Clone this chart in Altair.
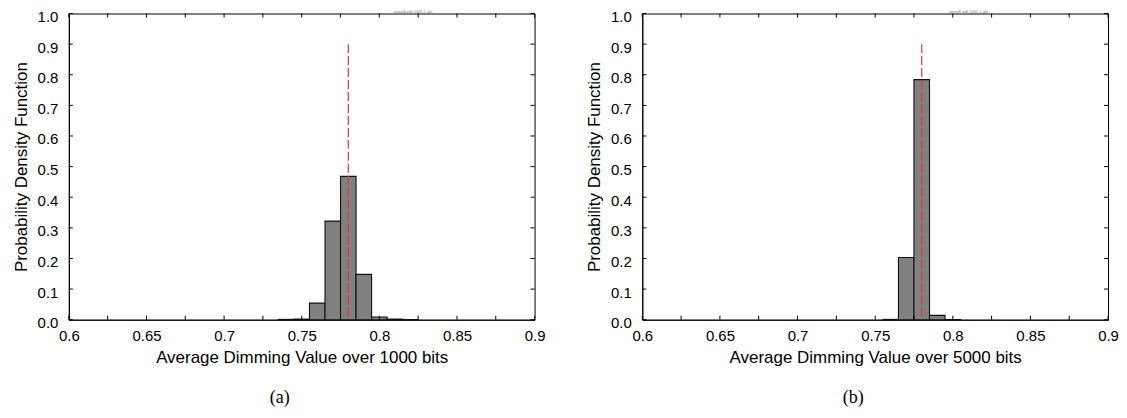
import altair as alt
import pandas as pd

# ---- data ----
bins_a = [0.74, 0.75, 0.76, 0.77, 0.78, 0.79, 0.80, 0.81, 0.82]
pdf_a = [0.001, 0.002, 0.054, 0.322, 0.468, 0.148, 0.009, 0.002, 0.0005]
bins_b = [0.76, 0.77, 0.78, 0.79, 0.80]
pdf_b = [0.001, 0.203, 0.784, 0.014, 0.0005]
bin_width = 0.01
mean_a = [0.78]
mean_b = [0.78]
line_top = [0.9]

x_labels = [0.6, 0.65, 0.7, 0.75, 0.8, 0.85, 0.9]
x_ticks = [0.6, 0.625, 0.65, 0.675, 0.7, 0.725, 0.75, 0.775, 0.8, 0.825, 0.85, 0.875, 0.9]
y_ticks = [0.0, 0.1, 0.2, 0.3, 0.4, 0.5, 0.6, 0.7, 0.8, 0.9, 1.0]

xtitle_a = "Average Dimming Value over 1000 bits"
xtitle_b = "Average Dimming Value over 5000 bits"
ytitle = "Probability Density Function"
captions = ["(a)", "(b)"]
gle_names = ["unary8-pdf-1000-1.gle", "unary8-pdf-5000-1.gle"]

W, H = 467, 307
TICK = 4
FONT = "Liberation Sans"


def panel(bins, pdf, mean, xtitle, caption, gle, gle_x):
    xs = alt.Scale(domain=[0.6, 0.9], nice=False, zero=False)
    ys = alt.Scale(domain=[0, 1], nice=False)
    xaxis = alt.Axis(values=x_labels, format=".2~f", title=xtitle,
                     labelPadding=9, titlePadding=6)
    yaxis = alt.Axis(values=y_ticks, format=".1f", title=ytitle,
                     labelPadding=11, titlePadding=7,
                     labelBaseline="top", labelOffset=-4)
    df = pd.DataFrame({"center": bins, "pdf": pdf, "base": [0.0] * len(bins)})
    bars = (
        alt.Chart(df)
        .transform_calculate(
            lo=f"datum.center - {bin_width / 2}",
            hi=f"datum.center + {bin_width / 2}",
        )
        .mark_rect(fill="#808080", stroke="#111111", strokeWidth=1.1, opacity=1)
        .encode(
            x=alt.X("lo:Q", scale=xs, axis=xaxis),
            x2="hi:Q",
            y=alt.Y("pdf:Q", scale=ys, axis=yaxis),
            y2="base:Q",
        )
    )
    mdf = pd.DataFrame({"m": mean, "top": line_top, "base": [0.0]})
    rule = (
        alt.Chart(mdf)
        .mark_rule(color="#e03535", strokeDash=[9, 3], strokeWidth=1.2)
        .encode(
            x=alt.X("m:Q", scale=xs, axis=xaxis),
            y=alt.Y("top:Q", scale=ys, axis=yaxis),
            y2="base:Q",
        )
    )
    xt = pd.DataFrame({"v": x_ticks})
    yt = pd.DataFrame({"v": y_ticks})
    bt = alt.Chart(xt).mark_rule(color="black").encode(
        x=alt.X("v:Q", scale=xs, axis=xaxis), y=alt.value(H), y2=alt.value(H - TICK)
    )
    tt = alt.Chart(xt).mark_rule(color="black").encode(
        x=alt.X("v:Q", scale=xs, axis=xaxis), y=alt.value(0), y2=alt.value(TICK)
    )
    lt = alt.Chart(yt).mark_rule(color="black").encode(
        y=alt.Y("v:Q", scale=ys, axis=yaxis), x=alt.value(0), x2=alt.value(TICK)
    )
    rt = alt.Chart(yt).mark_rule(color="black").encode(
        y=alt.Y("v:Q", scale=ys, axis=yaxis), x=alt.value(W), x2=alt.value(W - TICK)
    )
    cap = (
        alt.Chart(pd.DataFrame({"t": [caption]}))
        .mark_text(font="Liberation Serif", fontSize=18, color="black", baseline="middle")
        .encode(text="t:N", x=alt.value(W / 2 - 22), y=alt.value(386))
    )
    gl = (
        alt.Chart(pd.DataFrame({"t": [gle]}))
        .mark_text(font=FONT, fontSize=4, color="#777777", baseline="middle")
        .encode(text="t:N", x=alt.value(gle_x), y=alt.value(-2))
    )
    return alt.layer(bars, rule, bt, tt, lt, rt, cap, gl).properties(width=W, height=H)


left = panel(bins_a, pdf_a, mean_a, xtitle_a, captions[0], gle_names[0], 345)
right = panel(bins_b, pdf_b, mean_b, xtitle_b, captions[1], gle_names[1], 327)

chart = (
    alt.hconcat(left, right, spacing=108, bounds="flush")
    .properties(padding={"left": 3, "top": 0, "right": 0, "bottom": 0})
    .configure_view(stroke="black", strokeWidth=1)
    .configure_axis(
        grid=False,
        ticks=False,
        tickSize=0,
        domainColor="black",
        domainWidth=1,
        labelFont=FONT,
        labelFontSize=15,
        labelColor="black",
        labelFlush=False,
        labelOverlap=False,
        titleFont=FONT,
        titleFontSize=17,
        titleFontWeight="normal",
        titleColor="black",
    )
)

chart.save("out.html", embed_options={"renderer": "svg", "actions": False})
